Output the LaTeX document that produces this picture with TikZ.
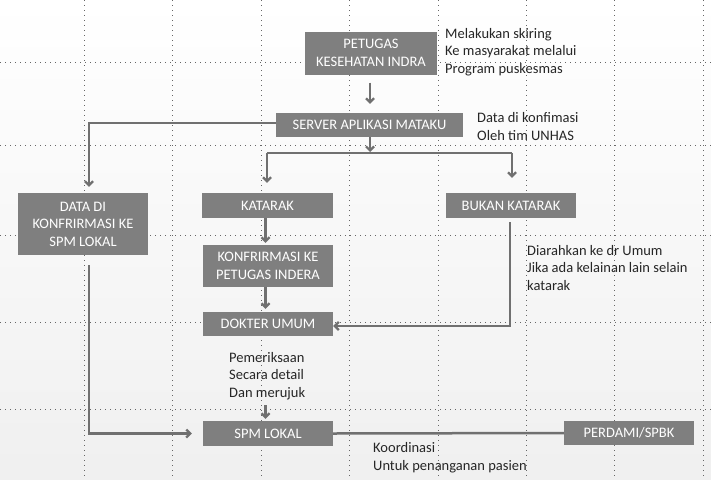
\documentclass[tikz,border=0pt]{standalone}
\usepackage{fontspec}
\setmainfont{Carlito}
\usetikzlibrary{arrows.meta, calc, positioning}
\definecolor{boxgray}{HTML}{7F7F7F}
\definecolor{linegray}{HTML}{707070}

\begin{document}
\begin{tikzpicture}[x=1pt, y=-1pt,
  box/.style={fill=boxgray, text=white, inner sep=0pt, align=center,
    font=\fontsize{14.5}{17.5}\selectfont},
  note/.style={inner sep=0pt, align=left, anchor=base west, text=black!85,
    font=\fontsize{14.5}{17.5}\selectfont},
  arr/.style={draw=linegray, line width=2.5pt, -{Straight Barb[length=4pt, width=8pt, line width=2.2pt]}},
  lnk/.style={draw=linegray, line width=2.5pt},
  grid/.style={black!60, line width=0.8pt, dash pattern=on 0.8pt off 4.2pt}]
\useasboundingbox (0,0) rectangle (711,479);
\fill[top color=white, bottom color=black!6] (0,0) rectangle (711,479);

% dotted grid in the background
\foreach \gx in {84,172,261,349,438,526,614,703}
  \draw[grid] (\gx,0) -- (\gx,479);
\foreach \gy in {62,145,235,322,409}
  \draw[grid] (0,\gy) -- (711,\gy);

% boxes
\node[box, minimum width=132, minimum height=43] (petugas) at (371,53) {PETUGAS\\KESEHATAN INDRA};
\node[box, minimum width=187, minimum height=24] (server) at (369.5,125) {SERVER APLIKASI MATAKU};
\node[box, minimum width=130, minimum height=62] (datadi) at (83,224) {DATA DI\\KONFRIRMASI KE\\SPM LOKAL};
\node[box, minimum width=131, minimum height=25] (katarak) at (267.5,205.5) {KATARAK};
\node[box, minimum width=130, minimum height=25] (bukan) at (511,205.5) {BUKAN KATARAK};
\node[box, minimum width=130, minimum height=42] (konfirmasi) at (268,266) {KONFRIRMASI KE\\PETUGAS INDERA};
\node[box, minimum width=130, minimum height=24] (dokter) at (268,324) {DOKTER UMUM};
\node[box, minimum width=130, minimum height=25] (spm) at (268,433.5) {SPM LOKAL};
\node[box, minimum width=130, minimum height=24] (perdami) at (629,433) {PERDAMI/SPBK};

% notes (anchored on the last line)
\node[note] (skiring) at (445,73) {Melakukan skiring\\Ke masyarakat melalui\\Program puskesmas};
\node[note] (unhas) at (477,140) {Data di konfimasi\\Oleh tim UNHAS};
\node[note] (arahkan) at (527,290) {Diarahkan ke dr Umum\\Jika ada kelainan lain selain\\katarak};
\node[note] (periksa) at (229,397) {Pemeriksaan\\Secara detail\\Dan merujuk};
\node[note] (koordinasi) at (373,470) {Koordinasi\\Untuk penanganan pasien};

% connectors
\coordinate (brL) at (267,153);
\coordinate (brR) at (512,153);
\coordinate (brM) at (370,153);
\draw[arr, shorten <=8pt, shorten >=9pt] ([xshift=-1pt]petugas.south) -- ([xshift=0.5pt]server.north);
\draw[arr, shorten >=1pt] ([xshift=0.5pt]server.south) -- (brM);
\draw[lnk] (brL) -- (brR);
\draw[arr, shorten >=10pt] (brL) -- ([xshift=-0.5pt]katarak.north);
\draw[arr, shorten >=15pt] (brR) -- ([xshift=1pt]bukan.north);
\draw[arr, shorten >=6pt] ([yshift=2pt]server.west) -| ([xshift=6pt]datadi.north);
\draw[arr, shorten >=2pt] ([xshift=-2pt]katarak.south) -- ([xshift=-2.5pt]konfirmasi.north);
\draw[arr, shorten >=3pt] ([xshift=-2.5pt]konfirmasi.south) -- ([xshift=-2.5pt]dokter.north);
\draw[arr, shorten <=4pt] ([xshift=-1pt]bukan.south) |- ([yshift=-2pt]dokter.east);
\draw[arr, shorten <=10pt, shorten >=11pt] ([xshift=6pt]datadi.south) |- (spm.west);
\draw[arr, shorten <=69pt, shorten >=2pt] ([xshift=-2.5pt]dokter.south) -- ([xshift=-2.5pt]spm.north);
\draw[lnk] (spm.east) -- (perdami.west);
\end{tikzpicture}
\end{document}
